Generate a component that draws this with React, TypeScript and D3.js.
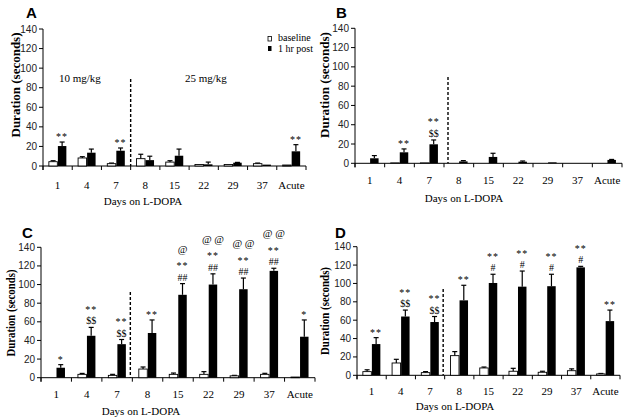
import React from "react";
import * as d3 from "d3";

const categories = ["1", "4", "7", "8", "15", "22", "29", "37", "Acute"];
const yTicks = [0, 20, 40, 60, 80, 100, 120, 140];
const legendNames = ["baseline", "1 hr post"];
const xAxisTitle = "Days on L-DOPA";
const doseLabels = ["10 mg/kg", "25 mg/kg"];

const aBaseline = [4.4, 8.2, 2.4, 7.5, 4, 1.5, 1.5, 2.4, 1];
const aBaselineErr = [1, 1.3, 0.6, 4.5, 1.4, 0, 0, 0.6, 0];
const aPost = [20.4, 13.6, 15.6, 6, 10.5, 1.7, 3.4, 1.4, 15];
const aPostErr = [4.1, 3.7, 2.8, 4, 6.8, 2.3, 0.3, 0, 6.8];
const aMarks = [["**"], [], ["**"], [], [], [], [], [], ["**"]];

const bBaseline = [0, 0.4, 0.4, 0, 0, 0, 0, 0, 0];
const bBaselineErr = [0, 0, 0, 0, 0, 0, 0, 0, 0];
const bPost = [5.2, 11.4, 19.7, 2, 6.6, 1.7, 1, 0, 3.5];
const bPostErr = [2.8, 3.5, 4.5, 0.8, 3.8, 0.7, 0, 0, 0.5];
const bMarks = [[], ["**"], ["$$", "**"], [], [], [], [], [], []];

const cBaseline = [0, 3.6, 2.5, 9.3, 3.6, 3.6, 2, 3.6, 0.7];
const cBaselineErr = [0, 1, 1.1, 2.2, 1.4, 2.9, 0.5, 1.1, 0];
const cPost = [10.7, 45, 36, 48, 89, 100, 95, 114.7, 44];
const cPostErr = [3.3, 9, 5, 14, 12, 11.5, 12, 2.8, 18];
const cMarks = [["*"], ["$$", "**"], ["$$", "**"], ["**"], ["##", "**", "@"], ["##", "**", "@ @"], ["##", "**", "@ @"], ["##", "**", "@ @"], ["*"]];

const dBaseline = [4, 13.4, 2.9, 21.4, 8, 4.4, 3.3, 5, 1.5];
const dBaselineErr = [2, 4, 1.1, 4.4, 1, 3.2, 1.1, 2, 0.5];
const dPost = [34, 64, 58, 81.6, 100.5, 96.5, 97, 117.5, 59];
const dPostErr = [7, 7, 6, 16.4, 9.5, 17, 13, 1.1, 12];
const dMarks = [["**"], ["$$", "**"], ["$$", "**"], ["**"], ["#", "**"], ["#", "**"], ["#", "**"], ["#", "**"], ["**"]];

const dividerValue = 89;

const SERIF = "'Liberation Serif', 'Times New Roman', serif";
const SANS = "'Liberation Sans', Arial, sans-serif";

type PanelProps = {
  letter: string;
  base: number[];
  baseErr: number[];
  post: number[];
  postErr: number[];
  marks: string[][];
  left: number;
  right: number;
  top: number;
  bottom: number;
  titleX: number;
  titleY: number;
  labelX: number;
  labelY: number;
  labelLen: number;
  labelText: string;
  tickY: number;
  xTitleX: number;
  xTitleY: number;
  dashDx: number;
  dashTop: number;
  legend?: boolean;
  doses?: boolean;
};

function Panel(p: PanelProps) {
  const x0 = d3.scaleBand<string>().domain(categories).range([p.left, p.right]).paddingInner(0).paddingOuter(0);
  const y = d3.scaleLinear().domain([0, 140]).range([p.bottom, p.top]);
  const bw = x0.bandwidth();
  const groupW = 17.5;
  const x1 = d3.scaleBand<string>().domain(legendNames).range([(bw - groupW) / 2, (bw + groupW) / 2]).paddingInner(0.06);
  const barW = x1.bandwidth();
  const boundaries = d3.range(categories.length + 1).map((i) => p.left + i * bw);
  const dashX = p.left + 3 * bw + p.dashDx;

  const series = [
    { name: legendNames[0], vals: p.base, errs: p.baseErr, fill: "#fff" },
    { name: legendNames[1], vals: p.post, errs: p.postErr, fill: "#000" },
  ];

  return (
    <g>
      <text x={p.titleX} y={p.titleY} fontFamily={SANS} fontWeight="bold" fontSize={15} fill="#000">{p.letter}</text>
      <text
        transform={`translate(${p.labelX},${p.labelY}) rotate(-90)`}
        textAnchor="middle"
        dominantBaseline="central"
        fontFamily={SERIF}
        fontWeight="bold"
        fontSize={12}
        fill="#000"
        textLength={p.labelLen}
        lengthAdjust="spacingAndGlyphs"
      >
        {p.labelText}
      </text>
      {yTicks.map((t) => (
        <g key={t}>
          <line x1={p.left - 4} x2={p.left} y1={y(t)} y2={y(t)} stroke="#000" />
          <text x={p.left - 6} y={y(t)} dy="0.35em" textAnchor="end" fontFamily={SANS} fontSize={10} fill="#222">{t}</text>
        </g>
      ))}
      <line x1={p.left} x2={p.left} y1={y(140)} y2={y(0) + 4} stroke="#000" />
      <line x1={p.left} x2={p.right} y1={y(0)} y2={y(0)} stroke="#000" />
      {boundaries.map((b, i) => (
        <line key={i} x1={b} x2={b} y1={y(0)} y2={y(0) + 4} stroke="#000" />
      ))}
      {categories.map((c) => (
        <text key={c} x={(x0(c) as number) + bw / 2} y={p.tickY} textAnchor="middle" fontFamily={SERIF} fontSize={11} fill="#000">{c}</text>
      ))}
      <text x={p.xTitleX} y={p.xTitleY} textAnchor="middle" fontFamily={SERIF} fontSize={11} fill="#000">{xAxisTitle}</text>
      <line x1={dashX} x2={dashX} y1={p.dashTop} y2={y(0)} stroke="#000" strokeWidth={1.4} strokeDasharray="3,2" />
      {series.map((s) =>
        categories.map((c, i) => {
          const bx = (x0(c) as number) + (x1(s.name) as number);
          const v = s.vals[i];
          const top = y(v + s.errs[i]);
          const cx = bx + barW / 2;
          return (
            <g key={s.name + c}>
              {s.errs[i] > 0 && (
                <g>
                  <line x1={cx} x2={cx} y1={y(v)} y2={top} stroke="#000" strokeWidth={1.2} />
                  <line x1={cx - 2.5} x2={cx + 2.5} y1={top} y2={top} stroke="#000" strokeWidth={1.2} />
                </g>
              )}
              {v > 0 && (
                <rect x={bx} y={y(v)} width={barW} height={y(0) - y(v)} fill={s.fill} stroke="#000" strokeWidth={s.fill === "#fff" ? 0.9 : 0} />
              )}
            </g>
          );
        })
      )}
      {categories.map((c, i) => {
        const cx = (x0(c) as number) + (x1(legendNames[1]) as number) + barW / 2;
        const top = y(p.post[i] + p.postErr[i]);
        return p.marks[i].map((m, k) => {
          const isAt = m.includes("@");
          const isStar = m.includes("*");
          const baseline = top - 3 - 12.5 * k - (isAt ? 3 : 0) + (isStar ? 1 : 0);
          return (
            <text key={c + k} x={cx} y={baseline} textAnchor="middle" fontFamily={SERIF}
              fontSize={isAt ? 10.5 : 10} letterSpacing={isStar ? 1 : 0} fill="#000">{m}</text>
          );
        });
      })}
      {p.legend && (
        <g fontFamily={SERIF} fontSize={10} fill="#000">
          <rect x={268} y={36.5} width={3.5} height={4.5} fill="#fff" stroke="#000" strokeWidth={0.8} />
          <text x={278} y={41}>{legendNames[0]}</text>
          <rect x={268} y={46} width={3.5} height={5} fill="#000" />
          <text x={278} y={52}>{legendNames[1]}</text>
        </g>
      )}
      {p.doses && (
        <g fontFamily={SERIF} fontSize={11} fill="#000">
          <text x={59} y={82}>{doseLabels[0]}</text>
          <text x={185} y={82}>{doseLabels[1]}</text>
        </g>
      )}
    </g>
  );
}

export default function App() {
  return (
    <svg width={633} height={420} style={{ position: "absolute", left: 0, top: 0, background: "#fff" }}>
      <rect width={633} height={420} fill="#fff" />
      <Panel letter="A" base={aBaseline} baseErr={aBaselineErr} post={aPost} postErr={aPostErr} marks={aMarks}
        left={43} right={306} top={29} bottom={166} titleX={26} titleY={18} labelX={16} labelY={85} labelLen={105}
        labelText="Duration (seconds)" tickY={189} xTitleX={143} xTitleY={205} dashDx={0} dashTop={79} legend doses />
      <Panel letter="B" base={bBaseline} baseErr={bBaselineErr} post={bPost} postErr={bPostErr} marks={bMarks}
        left={355} right={622} top={28.3} bottom={163.3} titleX={336} titleY={18} labelX={325} labelY={85} labelLen={106}
        labelText="Duration  (seconds)" tickY={184} xTitleX={464} xTitleY={202} dashDx={4} dashTop={77} />
      <Panel letter="C" base={cBaseline} baseErr={cBaselineErr} post={cPost} postErr={cPostErr} marks={cMarks}
        left={41} right={315} top={247.3} bottom={377.7} titleX={22} titleY={238} labelX={11} labelY={313} labelLen={87}
        labelText="Duration (seconds)" tickY={398} xTitleX={141} xTitleY={415} dashDx={-2} dashTop={292} />
      <Panel letter="D" base={dBaseline} baseErr={dBaselineErr} post={dPost} postErr={dPostErr} marks={dMarks}
        left={357} right={620} top={246.7} bottom={375.3} titleX={335} titleY={238} labelX={325} labelY={311} labelLen={88}
        labelText="Duration (seconds)" tickY={395} xTitleX={455} xTitleY={410} dashDx={-1.5} dashTop={289} />
    </svg>
  );
}
